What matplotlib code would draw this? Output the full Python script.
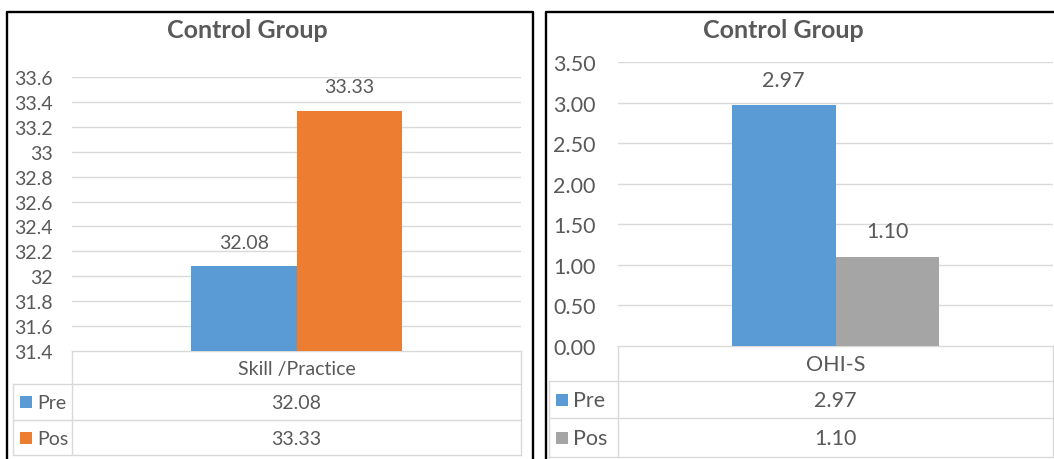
import matplotlib.pyplot as plt
import numpy as np

# data
series = ["Pre", "Pos"]
left_category = "Skill /Practice"
left_values = [32.08, 33.33]
left_ticks = [31.4, 31.6, 31.8, 32, 32.2, 32.4, 32.6, 32.8, 33, 33.2, 33.4, 33.6]
right_category = "OHI-S"
right_values = [2.97, 1.10]
right_ticks = [0.0, 0.5, 1.0, 1.5, 2.0, 2.5, 3.0, 3.5]

left_colors = ["#5B9BD5", "#ED7D31"]
right_colors = ["#5B9BD5", "#A5A5A5"]
TXT = "#595959"
GRID = "#D9D9D9"

plt.rcParams['font.family'] = ['Lato', 'DejaVu Sans']

W, H = 1054, 460
fig = plt.figure(figsize=(W / 100, H / 100), dpi=100)

def px_axes(x0, y0, x1, y1):
    # axes from pixel box (top-left origin)
    return fig.add_axes([x0 / W, 1 - y1 / H, (x1 - x0) / W, (y1 - y0) / H])

# overlay for borders and tables
ov = fig.add_axes([0, 0, 1, 1])
ov.set_xlim(0, W)
ov.set_ylim(H, 0)
ov.axis("off")

def panel(box, plot_box, rows, legend_x, values, colors, ticks, tick_fmt, category,
          title_x, bar_w, fs, tick_pad):
    bx0, by0, bx1 = box
    # black frame (no bottom edge visible)
    ov.plot([bx0, bx0, bx1, bx1], [H, by0, by0, H], color="black", lw=1.7, zorder=1)
    ov.text(title_x, 30, "Control Group", ha="center", va="center",
            fontsize=18, fontweight="bold", color=TXT)

    x0, y0, x1, y1 = plot_box
    ax = px_axes(x0, y0, x1, y1)
    xs = np.array([-bar_w / 2, bar_w / 2])
    bars = ax.bar(xs, values, width=bar_w, color=colors, zorder=3)
    labels = [tick_fmt(v) for v in values]
    ax.bar_label(bars, labels=labels, padding=11, fontsize=fs, color=TXT)
    ax.set_xlim(-0.5, 0.5)
    ax.set_ylim(ticks[0], ticks[-1])
    ax.set_yticks(ticks)
    ax.set_yticklabels([tick_fmt(t) for t in ticks])
    ax.set_xticks([])
    ax.tick_params(axis="y", length=0, pad=tick_pad, labelsize=fs, labelcolor=TXT)
    ax.grid(axis="y", color=GRID, lw=1, zorder=0)
    for s in ax.spines.values():
        s.set_visible(False)

    # data table under plot
    r0, r1, r2, r3 = rows
    lx = legend_x
    kw = dict(color=GRID, lw=1)
    ov.plot([x0, x1], [r0, r0], **kw)
    for r in (r1, r2, r3):
        ov.plot([lx, x1], [r, r], **kw)
    ov.plot([lx, lx], [r1, r3], **kw)
    ov.plot([x0, x0], [r0, r3], **kw)
    ov.plot([x1, x1], [r0, r3], **kw)
    cx = (x0 + x1) / 2
    ov.text(cx, (r0 + r1) / 2 + 1, category, ha="center", va="center", fontsize=fs, color=TXT)
    for i, (name, v, c) in enumerate(zip(series, values, colors)):
        ya, yb = (r1, r2) if i == 0 else (r2, r3)
        ym = (ya + yb) / 2
        ov.add_patch(plt.Rectangle((lx + 7, ym - 6), 12, 12, color=c, lw=0))
        ov.text(lx + 24, ym + 1, name, ha="left", va="center", fontsize=fs, color=TXT)
        ov.text(cx, ym + 1, tick_fmt(v), ha="center", va="center", fontsize=fs, color=TXT)
    return ax

panel((7, 13, 533), (72, 78, 521, 352), (352, 385, 421, 456), 13,
      left_values, left_colors, left_ticks, lambda v: f"{v:g}", left_category,
      247, 0.234, 14, 14)

panel((546, 13, 1060), (618, 63, 1053, 347), (347, 382, 419, 458), 549,
      right_values, right_colors, right_ticks, lambda v: f"{v:.2f}", right_category,
      783, 0.239, 15.5, 16)

fig.savefig("out.png", dpi=100, facecolor="white")
